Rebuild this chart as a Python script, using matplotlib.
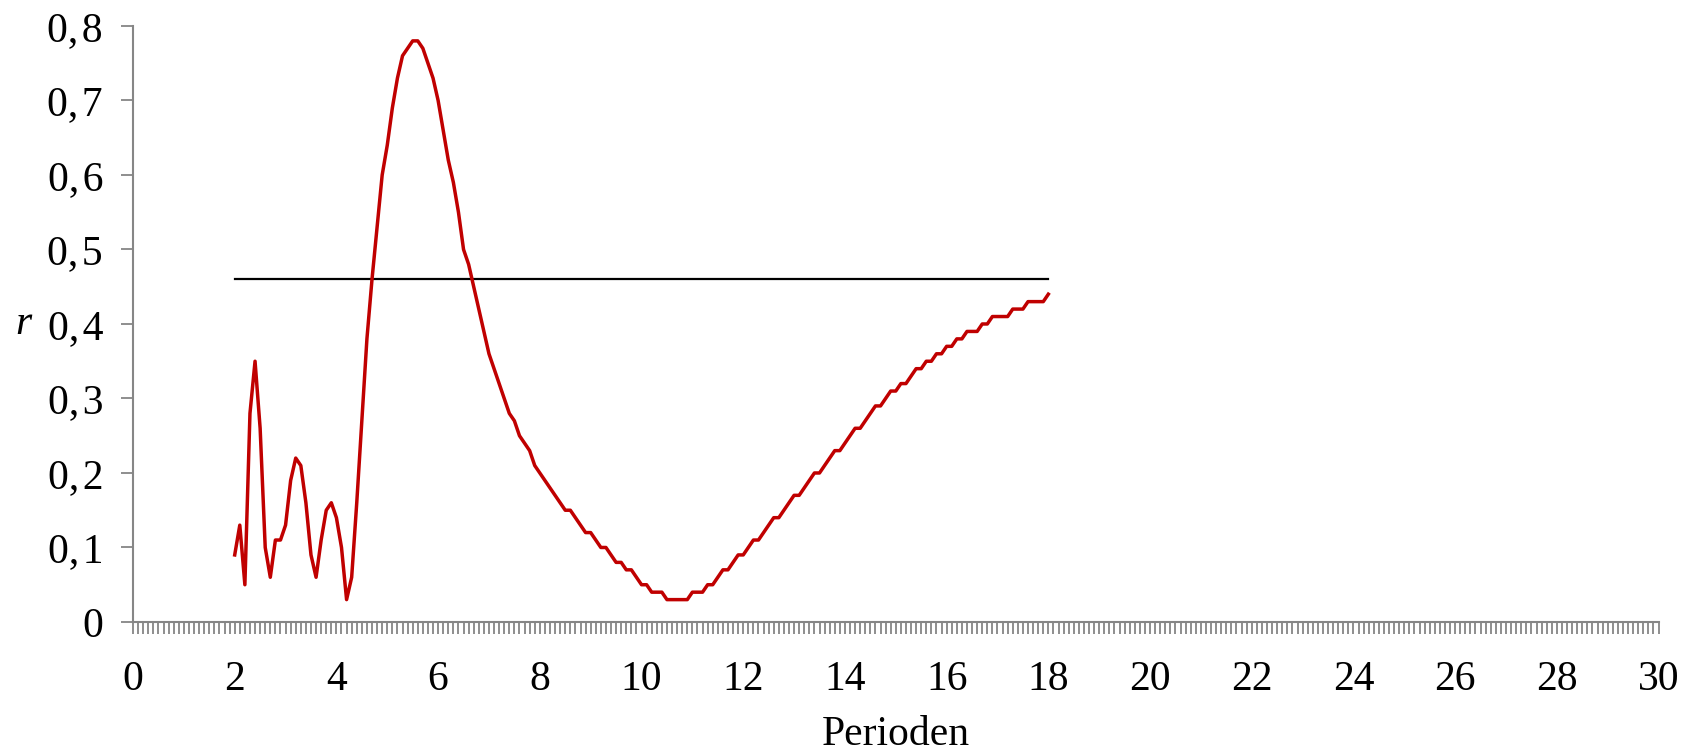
import numpy as np
import matplotlib
matplotlib.use("Agg")
import matplotlib.pyplot as plt
from matplotlib.ticker import MultipleLocator, FuncFormatter

plt.rcParams["font.family"] = ["Liberation Serif", "DejaVu Serif"]

# Perioden 2,0 ... 18,0 in Schritten von 0,1
periods = np.round(np.arange(20, 181) / 10, 1)

r_values = [
    0.09, 0.13, 0.05, 0.28, 0.35, 0.26, 0.10, 0.06, 0.11, 0.11,
    0.13, 0.19, 0.22, 0.21, 0.16, 0.09, 0.06, 0.11, 0.15, 0.16,
    0.14, 0.10, 0.03, 0.06, 0.16, 0.27, 0.38, 0.46, 0.53, 0.60,
    0.64, 0.69, 0.73, 0.76, 0.77, 0.78, 0.78, 0.77, 0.75, 0.73,
    0.70, 0.66, 0.62, 0.59, 0.55, 0.50, 0.48, 0.45, 0.42, 0.39,
    0.36, 0.34, 0.32, 0.30, 0.28, 0.27, 0.25, 0.24, 0.23, 0.21,
    0.20, 0.19, 0.18, 0.17, 0.16, 0.15, 0.15, 0.14, 0.13, 0.12,
    0.12, 0.11, 0.10, 0.10, 0.09, 0.08, 0.08, 0.07, 0.07, 0.06,
    0.05, 0.05, 0.04, 0.04, 0.04, 0.03, 0.03, 0.03, 0.03, 0.03,
    0.04, 0.04, 0.04, 0.05, 0.05, 0.06, 0.07, 0.07, 0.08, 0.09,
    0.09, 0.10, 0.11, 0.11, 0.12, 0.13, 0.14, 0.14, 0.15, 0.16,
    0.17, 0.17, 0.18, 0.19, 0.20, 0.20, 0.21, 0.22, 0.23, 0.23,
    0.24, 0.25, 0.26, 0.26, 0.27, 0.28, 0.29, 0.29, 0.30, 0.31,
    0.31, 0.32, 0.32, 0.33, 0.34, 0.34, 0.35, 0.35, 0.36, 0.36,
    0.37, 0.37, 0.38, 0.38, 0.39, 0.39, 0.39, 0.40, 0.40, 0.41,
    0.41, 0.41, 0.41, 0.42, 0.42, 0.42, 0.43, 0.43, 0.43, 0.43,
    0.44,
]

# kritischer Wert
threshold = 0.46

axis_grey = "#868686"
fs = 30

fig = plt.figure(figsize=(16.9, 7.51), dpi=100)
ax = fig.add_axes([0.0787, 0.1718, 0.9027, 0.7936])

ax.plot(periods, r_values, color="#C00000", linewidth=2.5, zorder=3)
ax.plot([periods[0], periods[-1]], [threshold, threshold], color="black", linewidth=1.6, zorder=2)

ax.set_xlim(0, 30)
ax.set_ylim(0, 0.8)

ax.xaxis.set_major_locator(MultipleLocator(2))
ax.xaxis.set_minor_locator(MultipleLocator(0.1))
ax.yaxis.set_major_locator(MultipleLocator(0.1))

def komma(v, pos):
    if abs(v) < 1e-9:
        return "0"
    # Dezimalkomma mit etwas Luft
    return f"{v:.1f}".replace(".", ",\u200a")

ax.yaxis.set_major_formatter(FuncFormatter(komma))
ax.xaxis.set_major_formatter(FuncFormatter(lambda v, p: f"{v:.0f}"))

for s in ["top", "right"]:
    ax.spines[s].set_visible(False)
for s in ["left", "bottom"]:
    ax.spines[s].set_color(axis_grey)
    ax.spines[s].set_linewidth(1.5)

ax.tick_params(axis="x", which="both", direction="out", length=8.6, width=1.3,
               color=axis_grey, labelsize=fs, pad=19)
ax.tick_params(axis="y", which="major", direction="out", length=8.6, width=1.3,
               color=axis_grey, labelsize=fs, pad=13)

ax.set_xlabel("Perioden", fontsize=fs, labelpad=12)
ax.set_ylabel("r", fontsize=fs, style="italic", rotation=0, va="center", labelpad=17)

fig.savefig("out.png", dpi=100)
